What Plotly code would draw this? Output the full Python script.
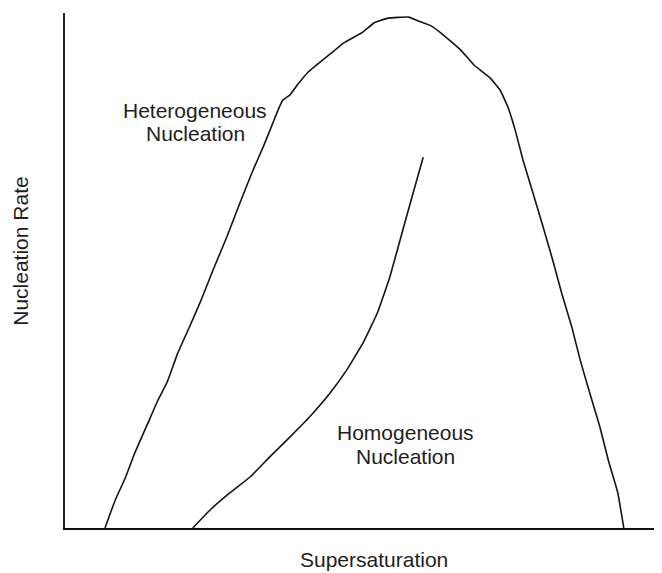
import plotly.graph_objects as go

# Heterogeneous nucleation curve (supersaturation, nucleation rate) in relative units
het_x = [6.7, 8.4, 10.1, 11.7, 13.9, 15.6, 17.1, 18.9, 20.6, 22.6, 24.8, 27.1, 29.3, 31.5,
         33.2, 34.8, 35.7, 36.5, 37.7, 38.9, 40.7, 44.6, 46.7, 49.9, 51.8, 54.1, 57.6, 59.3,
         61.3, 63.0, 66.3, 68.5, 71.2, 72.9, 74.2, 75.4, 76.7, 78.4, 80.1, 81.7, 83.2, 84.9,
         86.3, 87.9, 89.6, 91.0, 92.6, 93.6]
het_y = [0.0, 5.4, 9.7, 14.6, 20.4, 24.9, 28.3, 34.0, 38.4, 43.7, 50.1, 56.5, 63.1, 69.5,
         74.0, 78.6, 81.2, 83.1, 84.1, 86.0, 88.5, 92.2, 94.2, 96.3, 98.1, 99.0, 99.2, 98.4,
         97.5, 96.1, 92.8, 89.9, 87.4, 85.0, 81.7, 77.3, 71.5, 65.0, 58.4, 52.0, 45.6, 39.0,
         32.6, 26.2, 19.6, 13.2, 6.8, 0.0]

# Homogeneous nucleation curve
hom_x = [21.4, 24.3, 27.6, 31.0, 34.3, 37.7, 41.0, 44.4, 47.2, 49.9, 52.3, 54.4, 56.6, 58.3, 60.0]
hom_y = [0.0, 3.5, 6.8, 9.9, 13.8, 17.7, 21.6, 26.2, 30.7, 35.9, 41.7, 48.7, 57.9, 65.0, 72.0]

label_lines = [["Heterogeneous", "Nucleation"], ["Homogeneous", "Nucleation"]]
label_x = [21.8, 57.1]
label_y = [78.8, 16.2]

x_title = "Supersaturation"
y_title = "Nucleation Rate"

FONT = "Liberation Sans, Arial, sans-serif"
LINE_COLOR = "#141414"
TEXT_COLOR = "#1e1e1e"
FSIZE = 21
LINE_GAP = 23.5  # px between text baselines

fig = go.Figure()
fig.add_trace(go.Scatter(x=het_x, y=het_y, mode="lines",
                         line=dict(color=LINE_COLOR, width=1.6, shape="spline", smoothing=0.3),
                         hoverinfo="skip"))
fig.add_trace(go.Scatter(x=hom_x, y=hom_y, mode="lines",
                         line=dict(color=LINE_COLOR, width=1.6, shape="spline", smoothing=0.3),
                         hoverinfo="skip"))

for lines, lx, ly in zip(label_lines, label_x, label_y):
    n = len(lines)
    for i, t in enumerate(lines):
        shift = ((n - 1) / 2 - i) * LINE_GAP
        fig.add_annotation(x=lx, y=ly, xref="x", yref="y", text=t, showarrow=False,
                           yshift=shift,
                           font=dict(family=FONT, size=FSIZE, color=TEXT_COLOR),
                           xanchor="center", yanchor="middle", align="center")

fig.add_annotation(x=51.8, y=-0.061, xref="x", yref="paper", text=x_title,
                   showarrow=False, font=dict(family=FONT, size=FSIZE, color=TEXT_COLOR),
                   xanchor="center", yanchor="middle")
fig.add_annotation(x=-0.074, y=53.8, xref="paper", yref="y", text=y_title,
                   showarrow=False, textangle=-90,
                   font=dict(family=FONT, size=FSIZE, color=TEXT_COLOR),
                   xanchor="center", yanchor="middle")

# page body has an 8px default margin; size the figure to fit the 662x573 window
fig.update_layout(
    width=654, height=565,
    margin=dict(l=57, r=0, t=5, b=45),
    paper_bgcolor="white", plot_bgcolor="white",
    showlegend=False,
    xaxis=dict(range=[0, 100], showgrid=False, zeroline=False, showticklabels=False,
               ticks="", showline=True, linecolor="#111", linewidth=2.2, fixedrange=True),
    yaxis=dict(range=[0, 100], showgrid=False, zeroline=False, showticklabels=False,
               ticks="", showline=True, linecolor="#222", linewidth=1.6, fixedrange=True),
)

fig.write_html("out.html", config={"displayModeBar": False})
